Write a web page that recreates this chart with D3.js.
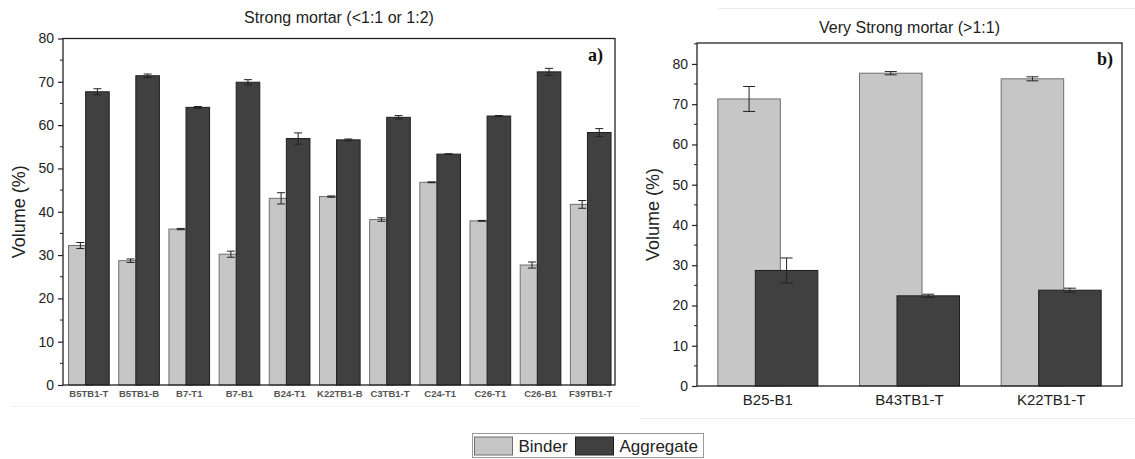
<!DOCTYPE html>
<html><head><meta charset="utf-8">
<script src="https://cdn.jsdelivr.net/npm/d3@7"></script>
<style>body{margin:0;background:#fff}svg{display:block;font-family:"Liberation Sans",Arial,sans-serif}</style>
</head><body>
<svg id="c" width="1135" height="459"></svg>
<script>
const catsA = ["B5TB1-T","B5TB1-B","B7-T1","B7-B1","B24-T1","K22TB1-B","C3TB1-T","C24-T1","C26-T1","C26-B1","F39TB1-T"];
const binderA = [32.2,28.7,36.0,30.2,43.1,43.5,38.2,46.8,37.9,27.7,41.7];
const binderErrA = [0.7,0.4,0.15,0.7,1.3,0.15,0.4,0.1,0.1,0.7,0.9];
const aggA = [67.7,71.4,64.1,69.9,56.9,56.6,61.8,53.3,62.1,72.3,58.3];
const aggErrA = [0.7,0.4,0.2,0.6,1.3,0.2,0.4,0.1,0.1,0.8,0.9];
const catsB = ["B25-B1","B43TB1-T","K22TB1-T"];
const binderB = [71.3,77.7,76.3];
const binderErrB = [3.1,0.4,0.5];
const aggB = [28.7,22.4,23.8];
const aggErrB = [3.1,0.4,0.5];
const ticksA = [0,10,20,30,40,50,60,70,80];
const ticksB = [0,10,20,30,40,50,60,70,80];
const seriesNames = ["Binder","Aggregate"];

const C_BIN = "#c6c6c6", S_BIN = "#6e6e6e", C_AGG = "#404040", S_AGG = "#1e1e1e";
const svg = d3.select("#c");

// faint separators from original composite
svg.append("line").attr("x1",718).attr("x2",1135).attr("y1",8.5).attr("y2",8.5).attr("stroke","#ececec");
svg.append("line").attr("x1",10).attr("x2",640).attr("y1",406.5).attr("y2",406.5).attr("stroke","#f0f0f0");
svg.append("line").attr("x1",640).attr("x2",1135).attr("y1",418.5).attr("y2",418.5).attr("stroke","#ececec");

function panel(o){
  const g = svg.append("g");
  const x = d3.scaleBand().domain(o.cats).range([o.x0,o.x1]);
  const y = d3.scaleLinear().domain(o.dom).range([o.y1,o.y0]);
  const bw = x.bandwidth();
  const gw = bw*o.gf, w = gw*o.wf, off = gw - w;
  o.cats.forEach((c,i)=>{
    const cx = x(c)+bw/2 + o.shift;
    const left = cx - gw/2;
    g.append("rect").attr("x",left).attr("y",y(o.bin[i])).attr("width",w).attr("height",y(0)-y(o.bin[i]))
      .attr("fill",C_BIN).attr("stroke",S_BIN).attr("stroke-width",1);
    errbar(g, left + w/2, y(o.bin[i]+o.binErr[i]), y(o.bin[i]-o.binErr[i]), o.cap);
    g.append("rect").attr("x",left+off).attr("y",y(o.agg[i])).attr("width",w).attr("height",y(0)-y(o.agg[i]))
      .attr("fill",C_AGG).attr("stroke",S_AGG).attr("stroke-width",1);
    errbar(g, left+off+w/2, y(o.agg[i]+o.aggErr[i]), y(o.agg[i]-o.aggErr[i]), o.cap);
  });
  g.append("rect").attr("x",o.x0).attr("y",o.y0).attr("width",o.x1-o.x0).attr("height",o.y1-o.y0)
    .attr("fill","none").attr("stroke","#222").attr("stroke-width",1.3);
  const ax = g.append("g").attr("transform",`translate(${o.x0},0)`)
    .call(d3.axisLeft(y).tickValues(o.ticks).tickSize(5).tickPadding(4));
  ax.select(".domain").remove();
  ax.selectAll("line").attr("stroke","#222").attr("stroke-width",1.2);
  ax.selectAll("text").attr("font-size",o.tfs).attr("fill","#222").attr("font-family","Liberation Sans, Arial");
  const minor = d3.range(5, o.dom[1], 10);
  g.selectAll(null).data(minor).join("line").attr("x1",o.x0-3).attr("x2",o.x0).attr("y1",d=>y(d)).attr("y2",d=>y(d))
    .attr("stroke","#222").attr("stroke-width",1);
  o.cats.forEach(c=>{
    g.append("text").attr("x",x(c)+bw/2+o.shift).attr("y",o.xly).attr("text-anchor","middle")
      .attr("font-size",o.xfs).attr("fill",o.xcol).attr("font-weight",o.xw).text(c);
  });
  g.append("text").attr("x",(o.x0+o.x1)/2).attr("y",o.ty).attr("text-anchor","middle").attr("font-size",16).attr("fill","#222").text(o.title);
  g.append("text").attr("transform",`translate(${o.ylx},${(o.y0+o.y1)/2}) rotate(-90)`).attr("text-anchor","middle")
    .attr("font-size",18).attr("fill","#222").text("Volume (%)");
  g.append("text").attr("x",o.x1-o.tagOff).attr("y",o.y0+22).attr("text-anchor","end").attr("font-family","Liberation Serif, Times New Roman, serif")
    .attr("font-weight","bold").attr("font-size",18).attr("fill","#111").text(o.tag);
}
function errbar(g,cx,yt,yb,cap){
  g.append("line").attr("x1",cx).attr("x2",cx).attr("y1",yt).attr("y2",yb).attr("stroke","#222").attr("stroke-width",1);
  [yt,yb].forEach(yy=>g.append("line").attr("x1",cx-cap).attr("x2",cx+cap).attr("y1",yy).attr("y2",yy).attr("stroke","#222").attr("stroke-width",1));
}

panel({cats:catsA,bin:binderA,binErr:binderErrA,agg:aggA,aggErr:aggErrA,ticks:ticksA,dom:[0,80],
  x0:63,x1:615,y0:38.5,y1:385,gf:0.81,wf:0.58,shift:0.8,cap:4,tfs:14,xfs:9.5,xly:397,xcol:"#555",xw:"bold",
  ty:23,title:"Strong mortar (<1:1 or 1:2)",ylx:25,tag:"a)",tagOff:12});
panel({cats:catsB,bin:binderB,binErr:binderErrB,agg:aggB,aggErr:aggErrB,ticks:ticksB,dom:[0,85.2],
  x0:697,x1:1122,y0:43,y1:386,gf:0.706,wf:0.625,shift:0,cap:6,tfs:14,xfs:15,xly:405,xcol:"#222",xw:"normal",
  ty:33,title:"Very Strong mortar (>1:1)",ylx:659,tag:"b)",tagOff:9});

const lg = svg.append("g");
lg.append("rect").attr("x",472.5).attr("y",433.5).attr("width",231).attr("height",24).attr("fill","#fff").attr("stroke","#999");
const lx = [474.5, 575.5];
seriesNames.forEach((n,i)=>{
  lg.append("rect").attr("x",lx[i]).attr("y",437).attr("width",38).attr("height",18)
    .attr("fill",i?C_AGG:C_BIN).attr("stroke",i?S_AGG:S_BIN);
  lg.append("text").attr("x",lx[i]+44).attr("y",452).attr("font-size",17).attr("fill","#222").text(n);
});
</script>
</body></html>
